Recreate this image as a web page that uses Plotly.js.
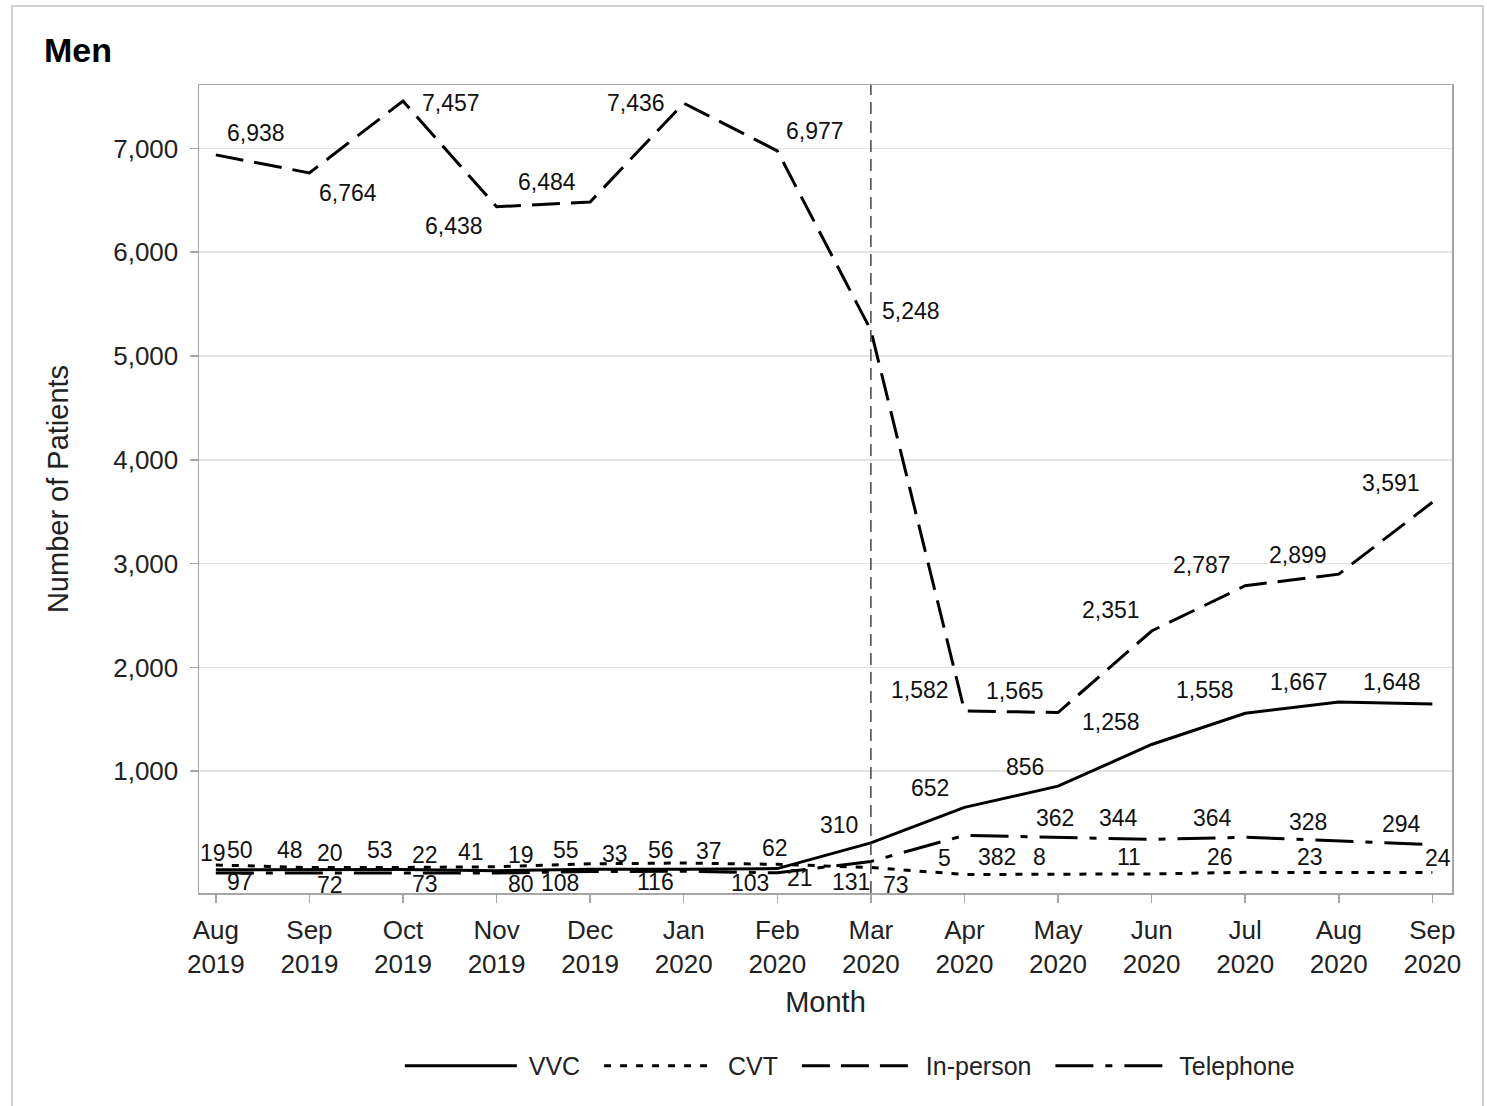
<!DOCTYPE html>
<html>
<head>
<meta charset="utf-8">
<script src="https://cdn.plot.ly/plotly-3.0.1.min.js"></script>
<style>
  html, body { margin:0; padding:0; background:#fff; overflow:hidden; }
  #chart { width:1487px; height:1106px; }
  #frame { position:absolute; left:11px; top:5px; width:1473px; height:1120px; border:2px solid #d0d0d0; pointer-events:none; box-sizing:border-box; }
</style>
</head>
<body>
<div id="chart"></div>
<div id="frame"></div>
<script>
// ---- data ----
const monthIndex = [0,1,2,3,4,5,6,7,8,9,10,11,12,13];
const monthLabels = ['Aug<br>2019','Sep<br>2019','Oct<br>2019','Nov<br>2019','Dec<br>2019','Jan<br>2020','Feb<br>2020','Mar<br>2020','Apr<br>2020','May<br>2020','Jun<br>2020','Jul<br>2020','Aug<br>2020','Sep<br>2020'];
const seriesNames = ['VVC', 'CVT', 'In-person', 'Telephone'];
const vvc       = [50, 48, 53, 41, 55, 56, 62, 310, 652, 856, 1258, 1558, 1667, 1648];
const cvt       = [97, 72, 73, 80, 108, 116, 103, 73, 5, 8, 11, 26, 23, 24];
const inPerson  = [6938, 6764, 7457, 6438, 6484, 7436, 6977, 5248, 1582, 1565, 2351, 2787, 2899, 3591];
const telephone = [19, 20, 22, 19, 33, 37, 21, 131, 382, 362, 344, 364, 328, 294];
const yTicks = [1000, 2000, 3000, 4000, 5000, 6000, 7000];
const markerMonth = 7; // Mar 2020

// ---- label offsets (pixels, dx right, dy down) ----
const inPersonOff = [[40,-22],[39,20],[48,2],[-43,19],[-43,-20],[-48,0],[38,-20],[40,-19],[-44,-21],[-43,-22],[-41,-21],[-43,-21],[-41,-19],[-41,-19]];
const vvcOff = [[24,-20],[-19,-20],[-23,-20],[-26,-19],[-24,-19],[-23,-19],[-2,-21],[-32,-18],[-34,-19],[-33,-19],[-41,-22],[-40,-23],[-40,-20],[-40,-22]];
const cvtOff = [[24,17],[21,17],[22,17],[24,17],[-30,19],[-28,19],[-27,19],[25,18],[-20,-17],[-19,-17],[-23,-17],[-25,-15],[-29,-16],[6,-15]];
const telOff = [[-3,-20],[21,-20],[22,-18],[24,-18],[25,-18],[25,-20],[23,5],[-20,21],[33,22],[-3,-19],[-33,-21],[-33,-19],[-31,-19],[-31,-21]];

const FONT = 'Liberation Sans, Arial, Helvetica, sans-serif';
const LW = 3;
const NB = '\u00a0';

const dashes = ['solid', '7px,9px', '28px,11px', '38px,12px,7px,12px'];
const seriesVals = [vvc, cvt, inPerson, telephone];
const traces = seriesNames.map((n, k) => ({
  name: NB + n + NB + NB, x: monthIndex, y: seriesVals[k], mode: 'lines',
  line: {color: '#000', width: LW, dash: dashes[k]}
}));

function labels(vals, offs) {
  return vals.map((v, i) => ({
    x: monthIndex[i], y: v, xref:'x', yref:'y',
    text: v.toLocaleString('en-US'),
    showarrow:false, xshift: offs[i][0], yshift: -offs[i][1],
    font:{family:FONT, size:23, color:'#111'}
  }));
}
const annotations = [].concat(
  labels(inPerson, inPersonOff), labels(vvc, vvcOff), labels(cvt, cvtOff), labels(telephone, telOff)
);

const axisCommon = {
  showline:true, mirror:true, linecolor:'#a6a6a6', linewidth:1.5,
  ticks:'outside', ticklen:8, tickcolor:'#a6a6a6', tickwidth:1.5,
  zeroline:false, tickfont:{family:FONT, size:26, color:'#222'}
};

const layout = {
  width:1487, height:1106,
  margin:{l:199, r:35, t:85, b:213},
  paper_bgcolor:'#fff', plot_bgcolor:'#fff',
  showlegend:true,
  title:{text:'<b>Men</b>', font:{family:FONT, size:34, color:'#000'}, x:44/1487, xanchor:'left', xref:'container', yref:'container', y:1-50/1106, yanchor:'middle'},
  xaxis: Object.assign({}, axisCommon, {
    range:[-0.18, 13.21], tickvals:monthIndex, ticktext:monthLabels, showgrid:false,
    ticklabelstandoff:5,
    title:{text:'Month', font:{family:FONT, size:29, color:'#222'}, standoff:14}
  }),
  yaxis: Object.assign({}, axisCommon, {
    range:[-173, 7611], tickvals:yTicks, tickformat:',d', showgrid:true, gridcolor:'#e3e3e3', gridwidth:1.5,
    ticklabelstandoff:6,
    title:{text:'Number of Patients', font:{family:FONT, size:29, color:'#222'}, standoff:36}
  }),
  legend:{orientation:'h', x:0.525, xanchor:'center', y:-0.214, yanchor:'middle',
    font:{family:FONT, size:25, color:'#222'}, itemwidth:112, bgcolor:'rgba(0,0,0,0)'},
  shapes:[{type:'line', xref:'x', yref:'paper', x0:markerMonth, x1:markerMonth, y0:0, y1:1,
    line:{color:'#444', width:1.5, dash:'12px,7px'}}],
  annotations: annotations
};

Plotly.newPlot('chart', traces, layout, {displayModeBar:false, staticPlot:true});
</script>
</body>
</html>
